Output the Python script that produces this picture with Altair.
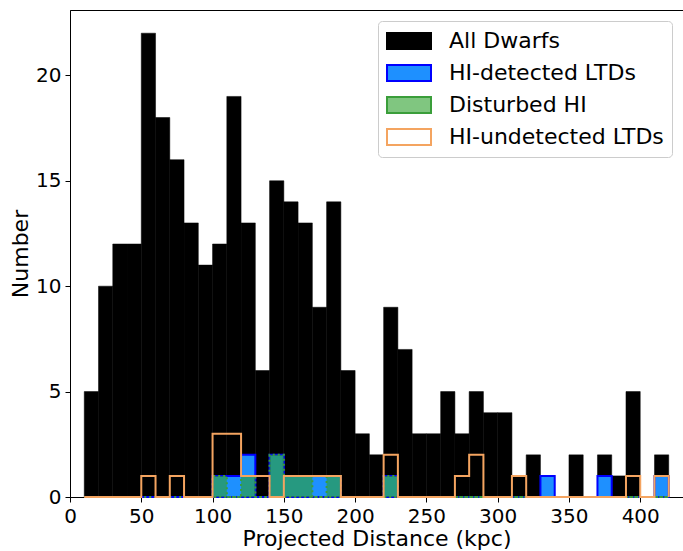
import altair as alt
import pandas as pd

# Bin edges (kpc) shared by every histogram
bin_edges = [10, 20, 30, 40, 50, 60, 70, 80, 90, 100, 110, 120, 130, 140, 150,
             160, 170, 180, 190, 200, 210, 220, 230, 240, 250, 260, 270, 280,
             290, 300, 310, 320, 330, 340, 350, 360, 370, 380, 390, 400, 410, 420]

all_dwarfs = [5, 10, 12, 12, 22, 18, 16, 13, 11, 12, 19, 13, 6, 15, 14, 13, 9, 14,
              6, 3, 2, 9, 7, 3, 3, 5, 3, 5, 4, 4, 1, 2, 1, 0, 2, 0, 2, 1, 5, 0, 2]
hi_detected = [0, 0, 0, 0, 0, 0, 0, 0, 0, 1, 1, 2, 0, 2, 1, 1, 1, 1,
               0, 0, 0, 1, 0, 0, 0, 0, 0, 0, 0, 0, 0, 0, 1, 0, 0, 0, 1, 0, 0, 0, 1]
disturbed = [0, 0, 0, 0, 0, 0, 0, 0, 0, 1, 0, 1, 0, 2, 1, 1, 0, 1,
             0, 0, 0, 1, 0, 0, 0, 0, 0, 0, 0, 0, 0, 0, 0, 0, 0, 0, 0, 0, 0, 0, 0]
hi_undetected = [0, 0, 0, 0, 1, 0, 1, 0, 0, 3, 3, 1, 1, 0, 1, 1, 1, 1,
                 0, 0, 0, 2, 0, 0, 0, 0, 1, 2, 0, 0, 1, 0, 0, 0, 0, 0, 0, 0, 1, 0, 1]

series = ["All Dwarfs", "HI-detected LTDs", "Disturbed HI", "HI-undetected LTDs"]
fills = ["black", "#1E90FF", "rgba(44,160,44,0.6)", "rgba(255,255,255,0)"]
strokes = ["black", "#0000FF", "#3a9e3a", "#F4A460"]
dashes = [[1, 0], [1, 0], [2, 3], [1, 0]]

FONT = "DejaVu Sans"

black_df = pd.DataFrame({"x0": bin_edges[:-1], "x1": bin_edges[1:],
                         "n": all_dwarfs, "series": series[0]})


def step_area(counts):
    xs = list(bin_edges)
    ys = list(counts) + [counts[-1]]
    return pd.DataFrame({"x": xs, "y": ys})


def step_line(counts):
    xs = [bin_edges[0]] + list(bin_edges) + [bin_edges[-1]]
    ys = [0] + list(counts) + [counts[-1], 0]
    return pd.DataFrame({"x": xs, "y": ys, "idx": list(range(len(xs)))})


xscale = alt.Scale(domain=[0, 430], nice=False, zero=False)
yscale = alt.Scale(domain=[0, 23.1], nice=False)

legend = alt.Legend(
    title=None, orient="top-right", offset=11,
    symbolType="M-1,-0.72L3,-0.72L3,0.72L-1,0.72Z", symbolSize=484,
    symbolStrokeWidth=2, labelFontSize=22, labelFont=FONT, labelColor="black",
    labelLimit=0, labelOffset=39, rowPadding=8, padding=8,
    strokeColor="#cccccc", cornerRadius=4, fillColor="white",
)

black = alt.Chart(black_df).mark_rect(strokeWidth=0.5).encode(
    x=alt.X("x0:Q", scale=xscale,
            axis=alt.Axis(title="Projected Distance (kpc)",
                          values=[0, 50, 100, 150, 200, 250, 300, 350, 400],
                          labelFlush=False, labelOverlap=False,
                          labelPadding=4, titlePadding=2)),
    x2="x1:Q",
    y=alt.Y("n:Q", scale=yscale,
            axis=alt.Axis(title="Number", values=[0, 5, 10, 15, 20],
                          labelFlush=False, labelPadding=4, titlePadding=3)),
    y2=alt.Y2(datum=0),
    fill=alt.Fill("series:N", scale=alt.Scale(domain=series, range=fills), legend=legend),
    stroke=alt.Stroke("series:N", scale=alt.Scale(domain=series, range=strokes), legend=legend),
    strokeDash=alt.StrokeDash("series:N", scale=alt.Scale(domain=series, range=dashes), legend=legend),
)

blue = alt.Chart(step_area(hi_detected)).mark_area(
    interpolate="step-after", fill="#1E90FF", stroke="#0000FF", strokeWidth=2
).encode(x="x:Q", y=alt.Y("y:Q", stack=None))

green = alt.Chart(step_area(disturbed)).mark_area(
    interpolate="step-after", fill="rgba(44,160,44,0.6)", stroke="#3a9e3a",
    strokeWidth=2, strokeDash=[2, 3]
).encode(x="x:Q", y=alt.Y("y:Q", stack=None))

orange = alt.Chart(step_line(hi_undetected)).mark_line(
    interpolate="step-after", stroke="#F4A460", strokeWidth=2
).encode(x="x:Q", y="y:Q", order="idx:Q")

chart = alt.layer(black, blue, green, orange).properties(
    width=613, height=487,
    autosize=alt.AutoSizeParams(type="none"),
    padding={"left": 70, "top": 10, "right": 0, "bottom": 54},
    background="white",
).configure_view(
    stroke="black", strokeWidth=1
).configure_axis(
    grid=False, domainColor="black", tickColor="black", tickSize=5,
    labelFont=FONT, titleFont=FONT, labelFontSize=20, titleFontSize=22,
    titleFontWeight="normal", labelColor="black", titleColor="black",
    domainWidth=1,
)

chart.save("out.html", embed_options={"renderer": "svg", "actions": False})
